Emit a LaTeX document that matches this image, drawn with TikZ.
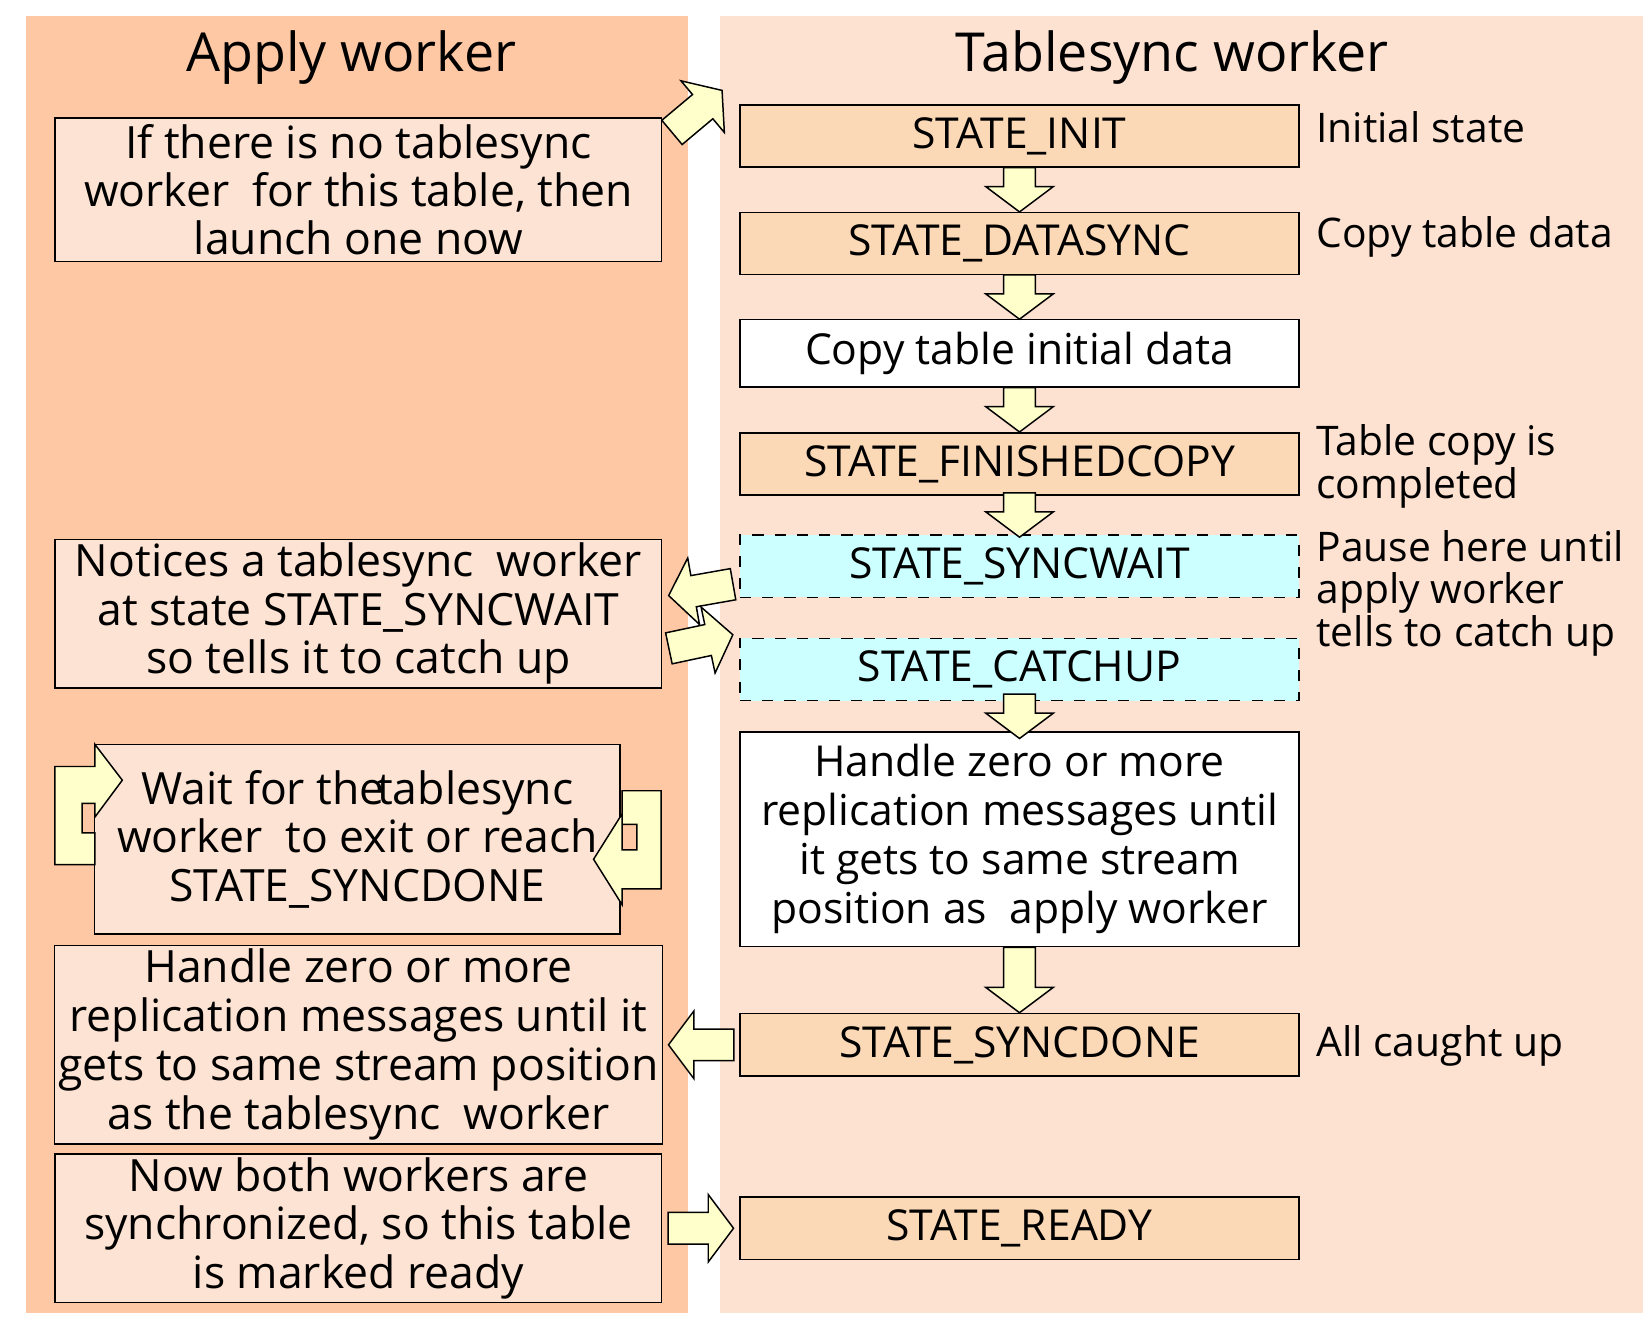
\documentclass[tikz,border=0pt]{standalone}
\usepackage{fontspec}
\setmainfont{Open Sans}
\usetikzlibrary{positioning}
\definecolor{applybg}{HTML}{FDC8A3}
\definecolor{syncbg}{HTML}{FDE2D2}
\definecolor{boxfill}{HTML}{FDE3D3}
\definecolor{statefill}{HTML}{FBD8B6}
\definecolor{waitfill}{HTML}{CCFFFF}
\definecolor{arrowfill}{HTML}{FFFFCC}

\tikzset{
  state/.style={draw, fill=statefill, minimum width=5.3cm, minimum height=0.58cm, font=\fontsize{11.5}{13}\selectfont},
  waitstate/.style={state, fill=waitfill, dashed},
  plain/.style={state, fill=white},
  note/.style={draw, fill=boxfill, align=center, font=\fontsize{12}{13}\selectfont, inner sep=1pt},
  side/.style={anchor=north west, align=left, font=\fontsize{11}{11.5}\selectfont, inner sep=0pt},
  title/.style={font=\fontsize{14.5}{16}\selectfont},
  blk/.pic={\draw[fill=arrowfill] (-#1/2,-15) -- (#1/2-24,-15) -- (#1/2-24,-32) -- (#1/2,0)
     -- (#1/2-24,32) -- (#1/2-24,15) -- (-#1/2,15) -- cycle;}
}

\begin{document}
\begin{tikzpicture}[x=0.01cm, y=-0.01cm]
  \useasboundingbox (0,0) rectangle (1565,1263);
  % panels
  \fill[applybg] (25,15) rectangle (653,1245);
  \fill[syncbg] (683,15) rectangle (1558,1245);
  \node[title] (applyt) at (333,55) {Apply worker};
  \node[title] (synct) at (1112,55) {Tablesync worker};

  % tablesync states
  \node[state] (init) at (967,129) {STATE\_INIT};
  \node[state] (datasync) at (967,231) {STATE\_DATASYNC};
  \node[plain] (copy) at (967,335) {Copy table initial data};
  \node[state] (finished) at (967,440) {STATE\_FINISHEDCOPY};
  \node[waitstate] (syncwait) at (967,537) {STATE\_SYNCWAIT};
  \node[waitstate] (catchup) at (967,635) {STATE\_CATCHUP};
  \node[plain, minimum height=1.8cm, align=center, font=\fontsize{11.5}{13.2}\selectfont] (handle) at (967,796)
    {Handle zero or more\\replication messages until\\it gets to same stream\\position as\ \ apply worker};
  \node[state] (syncdone) at (967,991) {STATE\_SYNCDONE};
  \node[state] (ready) at (967,1165) {STATE\_READY};

  % side comments
  \node[side] (c1) at (1248,105) {Initial state};
  \node[side] (c2) at (1248,205) {Copy table data};
  \node[side] (c3) at (1248,402) {Table copy is\\completed};
  \node[side] (c4) at (1248,502) {Pause here until\\apply worker\\tells to catch up};
  \node[side] (c5) at (1248,972) {All caught up};

  % apply worker notes
  \node[note, minimum width=5.75cm, minimum height=1.36cm] (launch) at (340,180)
    {If there is no tablesync\\worker\ \ for this table, then\\launch one now};
  \node[note, minimum width=5.75cm, minimum height=1.36cm] (notices) at (340,582)
    {Notices a tablesync\ \ worker\\at state STATE\_SYNCWAIT\\so tells it to catch up};
  \node[note, minimum width=4.98cm, minimum height=1.8cm] (waitfor) at (339,796)
    {Wait for the\hspace{-2pt}tablesync\\worker\ \ to exit or reach\\STATE\_SYNCDONE};
  \node[note, minimum width=5.75cm, minimum height=1.8cm, font=\fontsize{12}{13.2}\selectfont] (catch) at (340,991)
    {Handle zero or more\\replication messages until it\\gets to same stream position\\as the tablesync\ \ worker};
  \node[note, minimum width=5.75cm, minimum height=1.35cm] (nowboth) at (340,1165)
    {Now both workers are\\synchronized, so this table\\is marked ready};

  % down arrows
  \foreach \a/\b in {init/datasync, datasync/copy, copy/finished, finished/syncwait, catchup/handle}
    \path (\a.south) -- (\b.north) pic[midway, rotate=-90] {blk=42};
  \path (handle.south) -- (syncdone.north) pic[midway, rotate=-90] {blk=62};

  % side arrows
  \path (launch.north east) -- (init.north west) pic[pos=0.45, rotate=40] {blk=62};
  \path (syncwait.west) -- (notices.east) pic[midway, rotate=190] {blk=62};
  \path (notices.east) -- (catchup.west) pic[midway, rotate=12] {blk=62};
  \path (syncdone.west) -- (catch.east) pic[midway, rotate=180] {blk=62};
  \path (nowboth.east) -- (ready.west) pic[midway] {blk=62};

  % loop arrows round the wait note
  \draw[fill=arrowfill] (52,820) -- (52,727) -- (90,727) -- (90,706) -- (116,740) -- (90,775)
    -- (90,762) -- (78,762) -- (78,790) -- (90,790) -- (90,820) -- cycle;
  \draw[fill=arrowfill] (627,750) -- (627,843) -- (590,843) -- (590,858) -- (563,815) -- (590,772)
    -- (590,806) -- (604,806) -- (604,782) -- (590,782) -- (590,750) -- cycle;
\end{tikzpicture}
\end{document}
